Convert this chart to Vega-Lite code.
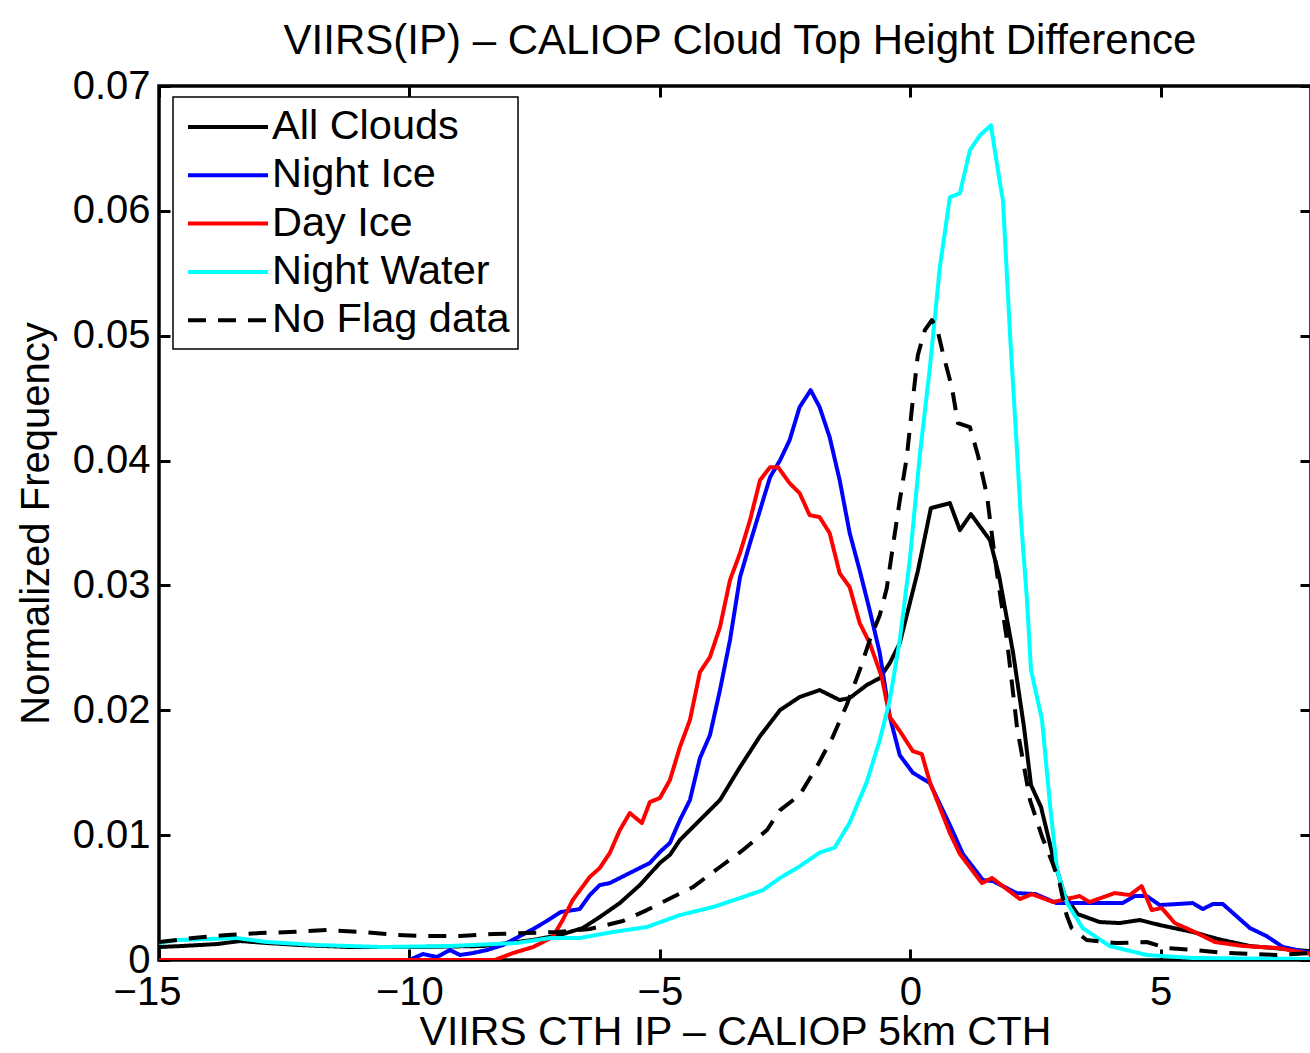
{
  "$schema": "https://vega.github.io/schema/vega-lite/v6.json",
  "width": 1152,
  "height": 874,
  "autosize": {"type": "none"},
  "padding": {"left": 159, "top": 86, "right": 0, "bottom": 93},
  "background": "white",
  "title": {"text": "VIIRS(IP) – CALIOP Cloud Top Height Difference", "fontSize": 42, "fontWeight": "normal", "font": "Liberation Sans", "color": "black", "offset": 3, "anchor": "middle", "dx": 5},
  "datasets": {
    "curves": [
      {"s":"All Clouds","x":-15,"y":0.00104},{"s":"All Clouds","x":-14.54,"y":0.00112},{"s":"All Clouds","x":-13.84,"y":0.00128},{"s":"All Clouds","x":-13.38,"y":0.00152},{"s":"All Clouds","x":-12.85,"y":0.00136},{"s":"All Clouds","x":-12.19,"y":0.0012},{"s":"All Clouds","x":-11.19,"y":0.00104},{"s":"All Clouds","x":-9.85,"y":0.00104},{"s":"All Clouds","x":-8.53,"y":0.00112},{"s":"All Clouds","x":-7.54,"y":0.0016},{"s":"All Clouds","x":-7.0,"y":0.002},{"s":"All Clouds","x":-6.54,"y":0.00256},{"s":"All Clouds","x":-6.2,"y":0.00344},{"s":"All Clouds","x":-5.8,"y":0.00456},{"s":"All Clouds","x":-5.4,"y":0.006},{"s":"All Clouds","x":-5.0,"y":0.00777},{"s":"All Clouds","x":-4.8,"y":0.00841},{"s":"All Clouds","x":-4.6,"y":0.00961},{"s":"All Clouds","x":-4.2,"y":0.01121},{"s":"All Clouds","x":-3.8,"y":0.01281},{"s":"All Clouds","x":-3.4,"y":0.01545},{"s":"All Clouds","x":-3.0,"y":0.01793},{"s":"All Clouds","x":-2.6,"y":0.02002},{"s":"All Clouds","x":-2.21,"y":0.02106},{"s":"All Clouds","x":-1.81,"y":0.02162},{"s":"All Clouds","x":-1.41,"y":0.02082},{"s":"All Clouds","x":-1.21,"y":0.02098},{"s":"All Clouds","x":-0.87,"y":0.02202},{"s":"All Clouds","x":-0.61,"y":0.02258},{"s":"All Clouds","x":-0.41,"y":0.02378},{"s":"All Clouds","x":-0.21,"y":0.02538},{"s":"All Clouds","x":-0.01,"y":0.02858},{"s":"All Clouds","x":0.15,"y":0.03114},{"s":"All Clouds","x":0.41,"y":0.03619},{"s":"All Clouds","x":0.79,"y":0.03659},{"s":"All Clouds","x":0.99,"y":0.03443},{"s":"All Clouds","x":1.21,"y":0.03571},{"s":"All Clouds","x":1.59,"y":0.03363},{"s":"All Clouds","x":1.77,"y":0.03082},{"s":"All Clouds","x":2.05,"y":0.02466},{"s":"All Clouds","x":2.27,"y":0.01865},{"s":"All Clouds","x":2.41,"y":0.01401},{"s":"All Clouds","x":2.61,"y":0.01225},{"s":"All Clouds","x":2.85,"y":0.00825},{"s":"All Clouds","x":3.08,"y":0.0052},{"s":"All Clouds","x":3.34,"y":0.00368},{"s":"All Clouds","x":3.78,"y":0.00304},{"s":"All Clouds","x":4.18,"y":0.00296},{"s":"All Clouds","x":4.58,"y":0.0032},{"s":"All Clouds","x":4.98,"y":0.0028},{"s":"All Clouds","x":5.64,"y":0.00224},{"s":"All Clouds","x":6.14,"y":0.00168},{"s":"All Clouds","x":6.78,"y":0.00112},{"s":"All Clouds","x":8.0,"y":0.0007},

      {"s":"Night Ice","x":-15,"y":0},{"s":"Night Ice","x":-10,"y":0},{"s":"Night Ice","x":-9.73,"y":0.00048},{"s":"Night Ice","x":-9.45,"y":0.00024},{"s":"Night Ice","x":-9.19,"y":0.0008},{"s":"Night Ice","x":-8.99,"y":0.0004},{"s":"Night Ice","x":-8.73,"y":0.00056},{"s":"Night Ice","x":-8.45,"y":0.0008},{"s":"Night Ice","x":-8.13,"y":0.0012},{"s":"Night Ice","x":-7.83,"y":0.00184},{"s":"Night Ice","x":-7.53,"y":0.00248},{"s":"Night Ice","x":-7.26,"y":0.00312},{"s":"Night Ice","x":-6.98,"y":0.00384},{"s":"Night Ice","x":-6.6,"y":0.00408},{"s":"Night Ice","x":-6.4,"y":0.0052},{"s":"Night Ice","x":-6.2,"y":0.006},{"s":"Night Ice","x":-6.0,"y":0.00616},{"s":"Night Ice","x":-5.6,"y":0.00697},{"s":"Night Ice","x":-5.2,"y":0.00777},{"s":"Night Ice","x":-5.0,"y":0.00865},{"s":"Night Ice","x":-4.8,"y":0.00937},{"s":"Night Ice","x":-4.6,"y":0.01121},{"s":"Night Ice","x":-4.4,"y":0.01281},{"s":"Night Ice","x":-4.2,"y":0.01617},{"s":"Night Ice","x":-4.0,"y":0.01801},{"s":"Night Ice","x":-3.8,"y":0.02162},{"s":"Night Ice","x":-3.6,"y":0.02562},{"s":"Night Ice","x":-3.4,"y":0.03066},{"s":"Night Ice","x":-3.2,"y":0.03339},{"s":"Night Ice","x":-3.0,"y":0.03603},{"s":"Night Ice","x":-2.8,"y":0.03867},{"s":"Night Ice","x":-2.6,"y":0.04003},{"s":"Night Ice","x":-2.41,"y":0.04163},{"s":"Night Ice","x":-2.21,"y":0.04428},{"s":"Night Ice","x":-1.99,"y":0.04564},{"s":"Night Ice","x":-1.81,"y":0.04428},{"s":"Night Ice","x":-1.61,"y":0.04187},{"s":"Night Ice","x":-1.41,"y":0.03843},{"s":"Night Ice","x":-1.21,"y":0.03419},{"s":"Night Ice","x":-1.01,"y":0.0312},{"s":"Night Ice","x":-0.81,"y":0.028},{"s":"Night Ice","x":-0.61,"y":0.0246},{"s":"Night Ice","x":-0.41,"y":0.0195},{"s":"Night Ice","x":-0.21,"y":0.0164},{"s":"Night Ice","x":0.05,"y":0.015},{"s":"Night Ice","x":0.39,"y":0.01417},{"s":"Night Ice","x":0.79,"y":0.01081},{"s":"Night Ice","x":1.05,"y":0.00849},{"s":"Night Ice","x":1.45,"y":0.0064},{"s":"Night Ice","x":1.65,"y":0.00632},{"s":"Night Ice","x":2.12,"y":0.00536},{"s":"Night Ice","x":2.5,"y":0.00528},{"s":"Night Ice","x":2.92,"y":0.00456},{"s":"Night Ice","x":4.24,"y":0.00456},{"s":"Night Ice","x":4.48,"y":0.00512},{"s":"Night Ice","x":4.72,"y":0.00512},{"s":"Night Ice","x":4.98,"y":0.0044},{"s":"Night Ice","x":5.64,"y":0.00456},{"s":"Night Ice","x":5.84,"y":0.00408},{"s":"Night Ice","x":6.04,"y":0.00448},{"s":"Night Ice","x":6.24,"y":0.00448},{"s":"Night Ice","x":6.78,"y":0.00256},{"s":"Night Ice","x":7.11,"y":0.00192},{"s":"Night Ice","x":7.44,"y":0.00104},{"s":"Night Ice","x":8.0,"y":0.00056},

      {"s":"Day Ice","x":-15,"y":0},{"s":"Day Ice","x":-8.3,"y":0},{"s":"Day Ice","x":-7.93,"y":0.00056},{"s":"Day Ice","x":-7.53,"y":0.00104},{"s":"Day Ice","x":-7.14,"y":0.00184},{"s":"Day Ice","x":-6.94,"y":0.0032},{"s":"Day Ice","x":-6.74,"y":0.0048},{"s":"Day Ice","x":-6.4,"y":0.00665},{"s":"Day Ice","x":-6.2,"y":0.00737},{"s":"Day Ice","x":-6.0,"y":0.00857},{"s":"Day Ice","x":-5.8,"y":0.0104},{"s":"Day Ice","x":-5.6,"y":0.01177},{"s":"Day Ice","x":-5.36,"y":0.01097},{"s":"Day Ice","x":-5.2,"y":0.01265},{"s":"Day Ice","x":-5.0,"y":0.01297},{"s":"Day Ice","x":-4.8,"y":0.01441},{"s":"Day Ice","x":-4.6,"y":0.01705},{"s":"Day Ice","x":-4.4,"y":0.01922},{"s":"Day Ice","x":-4.2,"y":0.02306},{"s":"Day Ice","x":-4.0,"y":0.02426},{"s":"Day Ice","x":-3.8,"y":0.02666},{"s":"Day Ice","x":-3.6,"y":0.03042},{"s":"Day Ice","x":-3.4,"y":0.03259},{"s":"Day Ice","x":-3.2,"y":0.03523},{"s":"Day Ice","x":-3.0,"y":0.03843},{"s":"Day Ice","x":-2.8,"y":0.03947},{"s":"Day Ice","x":-2.64,"y":0.03947},{"s":"Day Ice","x":-2.41,"y":0.03819},{"s":"Day Ice","x":-2.21,"y":0.03739},{"s":"Day Ice","x":-2.01,"y":0.03563},{"s":"Day Ice","x":-1.81,"y":0.03547},{"s":"Day Ice","x":-1.61,"y":0.03419},{"s":"Day Ice","x":-1.41,"y":0.03098},{"s":"Day Ice","x":-1.21,"y":0.02986},{"s":"Day Ice","x":-1.01,"y":0.02698},{"s":"Day Ice","x":-0.81,"y":0.02538},{"s":"Day Ice","x":-0.57,"y":0.02266},{"s":"Day Ice","x":-0.41,"y":0.01946},{"s":"Day Ice","x":-0.21,"y":0.01834},{"s":"Day Ice","x":0.05,"y":0.01673},{"s":"Day Ice","x":0.23,"y":0.01649},{"s":"Day Ice","x":0.39,"y":0.01425},{"s":"Day Ice","x":0.79,"y":0.01017},{"s":"Day Ice","x":0.99,"y":0.00849},{"s":"Day Ice","x":1.43,"y":0.00616},{"s":"Day Ice","x":1.63,"y":0.00657},{"s":"Day Ice","x":2.19,"y":0.00488},{"s":"Day Ice","x":2.43,"y":0.00528},{"s":"Day Ice","x":2.85,"y":0.00464},{"s":"Day Ice","x":3.38,"y":0.00512},{"s":"Day Ice","x":3.58,"y":0.00464},{"s":"Day Ice","x":4.08,"y":0.00536},{"s":"Day Ice","x":4.38,"y":0.0052},{"s":"Day Ice","x":4.62,"y":0.00592},{"s":"Day Ice","x":4.82,"y":0.004},{"s":"Day Ice","x":5.02,"y":0.00416},{"s":"Day Ice","x":5.28,"y":0.00296},{"s":"Day Ice","x":5.68,"y":0.00224},{"s":"Day Ice","x":6.08,"y":0.00144},{"s":"Day Ice","x":6.64,"y":0.00112},{"s":"Day Ice","x":7.34,"y":0.00096},{"s":"Day Ice","x":8.0,"y":0.00048},

      {"s":"Night Water","x":-15,"y":0.00136},{"s":"Night Water","x":-14.64,"y":0.0016},{"s":"Night Water","x":-13.44,"y":0.00176},{"s":"Night Water","x":-12.85,"y":0.00144},{"s":"Night Water","x":-11.85,"y":0.0012},{"s":"Night Water","x":-10.53,"y":0.00104},{"s":"Night Water","x":-9.19,"y":0.00112},{"s":"Night Water","x":-7.86,"y":0.00136},{"s":"Night Water","x":-7.19,"y":0.00176},{"s":"Night Water","x":-6.6,"y":0.00176},{"s":"Night Water","x":-5.94,"y":0.00224},{"s":"Night Water","x":-5.26,"y":0.00264},{"s":"Night Water","x":-4.6,"y":0.0036},{"s":"Night Water","x":-3.94,"y":0.00424},{"s":"Night Water","x":-3.4,"y":0.00496},{"s":"Night Water","x":-2.94,"y":0.0056},{"s":"Night Water","x":-2.6,"y":0.00657},{"s":"Night Water","x":-2.21,"y":0.0075},{"s":"Night Water","x":-1.81,"y":0.0086},{"s":"Night Water","x":-1.51,"y":0.009},{"s":"Night Water","x":-1.21,"y":0.011},{"s":"Night Water","x":-0.87,"y":0.01425},{"s":"Night Water","x":-0.61,"y":0.01761},{"s":"Night Water","x":-0.41,"y":0.02082},{"s":"Night Water","x":-0.21,"y":0.02562},{"s":"Night Water","x":-0.01,"y":0.03203},{"s":"Night Water","x":0.19,"y":0.04044},{"s":"Night Water","x":0.39,"y":0.0474},{"s":"Night Water","x":0.59,"y":0.05549},{"s":"Night Water","x":0.79,"y":0.06109},{"s":"Night Water","x":0.99,"y":0.06141},{"s":"Night Water","x":1.19,"y":0.06485},{"s":"Night Water","x":1.39,"y":0.06605},{"s":"Night Water","x":1.61,"y":0.06685},{"s":"Night Water","x":1.79,"y":0.06221},{"s":"Night Water","x":1.85,"y":0.06085},{"s":"Night Water","x":1.99,"y":0.0502},{"s":"Night Water","x":2.13,"y":0.04083},{"s":"Night Water","x":2.21,"y":0.03523},{"s":"Night Water","x":2.33,"y":0.02882},{"s":"Night Water","x":2.41,"y":0.02322},{"s":"Night Water","x":2.63,"y":0.01922},{"s":"Night Water","x":2.79,"y":0.01241},{"s":"Night Water","x":2.93,"y":0.00721},{"s":"Night Water","x":3.13,"y":0.00456},{"s":"Night Water","x":3.44,"y":0.00256},{"s":"Night Water","x":3.98,"y":0.00112},{"s":"Night Water","x":4.72,"y":0.0004},{"s":"Night Water","x":5.64,"y":0.00016},{"s":"Night Water","x":8.0,"y":0.00008},

      {"s":"No Flag data","x":-15,"y":0.00144},{"s":"No Flag data","x":-14.32,"y":0.00176},{"s":"No Flag data","x":-13.64,"y":0.002},{"s":"No Flag data","x":-12.99,"y":0.00216},{"s":"No Flag data","x":-12.39,"y":0.00224},{"s":"No Flag data","x":-11.65,"y":0.0024},{"s":"No Flag data","x":-10.93,"y":0.00224},{"s":"No Flag data","x":-10.25,"y":0.002},{"s":"No Flag data","x":-9.65,"y":0.00192},{"s":"No Flag data","x":-8.99,"y":0.00192},{"s":"No Flag data","x":-8.33,"y":0.00208},{"s":"No Flag data","x":-7.66,"y":0.00216},{"s":"No Flag data","x":-7.05,"y":0.00224},{"s":"No Flag data","x":-6.4,"y":0.00248},{"s":"No Flag data","x":-5.74,"y":0.00312},{"s":"No Flag data","x":-5.26,"y":0.004},{"s":"No Flag data","x":-4.86,"y":0.0048},{"s":"No Flag data","x":-4.34,"y":0.00584},{"s":"No Flag data","x":-3.8,"y":0.00745},{"s":"No Flag data","x":-3.34,"y":0.00881},{"s":"No Flag data","x":-2.86,"y":0.01041},{"s":"No Flag data","x":-2.6,"y":0.01201},{"s":"No Flag data","x":-2.21,"y":0.01321},{"s":"No Flag data","x":-1.87,"y":0.01545},{"s":"No Flag data","x":-1.55,"y":0.01785},{"s":"No Flag data","x":-1.27,"y":0.02042},{"s":"No Flag data","x":-1.01,"y":0.02322},{"s":"No Flag data","x":-0.81,"y":0.02562},{"s":"No Flag data","x":-0.61,"y":0.02762},{"s":"No Flag data","x":-0.47,"y":0.02978},{"s":"No Flag data","x":-0.35,"y":0.03307},{"s":"No Flag data","x":-0.21,"y":0.03683},{"s":"No Flag data","x":-0.07,"y":0.04027},{"s":"No Flag data","x":0.05,"y":0.04484},{"s":"No Flag data","x":0.15,"y":0.04844},{"s":"No Flag data","x":0.29,"y":0.05044},{"s":"No Flag data","x":0.43,"y":0.05124},{"s":"No Flag data","x":0.53,"y":0.05068},{"s":"No Flag data","x":0.65,"y":0.0486},{"s":"No Flag data","x":0.83,"y":0.04588},{"s":"No Flag data","x":0.95,"y":0.043},{"s":"No Flag data","x":1.19,"y":0.04268},{"s":"No Flag data","x":1.35,"y":0.04043},{"s":"No Flag data","x":1.53,"y":0.03723},{"s":"No Flag data","x":1.63,"y":0.03403},{"s":"No Flag data","x":1.75,"y":0.03042},{"s":"No Flag data","x":1.93,"y":0.02562},{"s":"No Flag data","x":2.13,"y":0.01865},{"s":"No Flag data","x":2.39,"y":0.01281},{"s":"No Flag data","x":2.64,"y":0.00977},{"s":"No Flag data","x":2.84,"y":0.00777},{"s":"No Flag data","x":2.98,"y":0.00616},{"s":"No Flag data","x":3.12,"y":0.0036},{"s":"No Flag data","x":3.22,"y":0.00256},{"s":"No Flag data","x":3.52,"y":0.0016},{"s":"No Flag data","x":4.12,"y":0.00136},{"s":"No Flag data","x":4.72,"y":0.00144},{"s":"No Flag data","x":5.12,"y":0.00096},{"s":"No Flag data","x":5.64,"y":0.0008},{"s":"No Flag data","x":6.32,"y":0.00056},{"s":"No Flag data","x":7.32,"y":0.0004},{"s":"No Flag data","x":8.0,"y":0.00056}
    ]
  },
  "data": {"name": "curves"},
  "layer": [
    {
      "mark": {"type": "line", "strokeWidth": 4, "clip": true, "strokeJoin": "round"},
      "encoding": {
        "x": {"field": "x", "type": "quantitative", "scale": {"domain": [-15, 8], "nice": false, "zero": false},
              "axis": {"orient": "bottom", "values": [-15, -10, -5, 0, 5], "title": "VIIRS CTH IP – CALIOP 5km CTH", "titleFontSize": 41, "labelPadding": 23, "titlePadding": 0, "labelFlush": false, "labelOffset": {"expr": "datum.value == -15 ? -12 : 0"}}},
        "y": {"field": "y", "type": "quantitative", "scale": {"domain": [0, 0.07], "nice": false},
              "axis": {"orient": "left", "values": [0, 0.01, 0.02, 0.03, 0.04, 0.05, 0.06, 0.07], "format": ".2~f", "title": "Normalized Frequency", "labelPadding": 20, "titlePadding": 16}},
        "color": {"field": "s", "type": "nominal",
                  "scale": {"domain": ["All Clouds", "Night Ice", "Day Ice", "Night Water", "No Flag data"], "range": ["#000000", "#0000ff", "#ff0000", "#00ffff", "#000000"]},
                  "legend": {"orient": "none", "legendX": 14, "legendY": 11, "title": null, "symbolType": "M-2,0H2", "symbolSize": 1600, "symbolStrokeWidth": 4, "labelFontSize": 41.5, "labelFont": "Liberation Sans", "labelColor": "black", "labelOffset": 22, "symbolOffset": 25, "padding": 8, "rowPadding": 5.3, "strokeColor": "black", "fillColor": "white", "labelLimit": 0}},
        "strokeDash": {"field": "s", "type": "nominal",
                  "scale": {"domain": ["All Clouds", "Night Ice", "Day Ice", "Night Water", "No Flag data"], "range": [[1, 0], [1, 0], [1, 0], [1, 0], [18, 12]]},
                  "legend": {"orient": "none", "legendX": 14, "legendY": 11, "title": null, "symbolType": "M-2,0H2", "symbolSize": 1600, "symbolStrokeWidth": 4, "labelFontSize": 41.5, "labelFont": "Liberation Sans", "labelColor": "black", "labelOffset": 22, "symbolOffset": 25, "padding": 8, "rowPadding": 5.3, "strokeColor": "black", "fillColor": "white", "labelLimit": 0}}
      }
    },
    {
      "mark": {"type": "point", "opacity": 0},
      "encoding": {
        "x": {"field": "x", "type": "quantitative", "axis": {"orient": "top", "values": [-15, -10, -5, 0, 5], "labels": false, "title": null}},
        "y": {"field": "y", "type": "quantitative", "axis": {"orient": "right", "values": [0, 0.01, 0.02, 0.03, 0.04, 0.05, 0.06, 0.07], "labels": false, "title": null}}
      }
    }
  ],
  "resolve": {"axis": {"x": "independent", "y": "independent"}},
  "config": {
    "font": "Liberation Sans",
    "view": {"stroke": "#000000", "strokeWidth": 3.5},
    "axis": {"domain": false, "grid": false, "ticks": true, "tickSize": -11, "tickWidth": 3, "tickColor": "#000000",
             "labelFontSize": 40, "labelFont": "Liberation Sans", "labelColor": "#000000",
             "titleFontSize": 40, "titleFont": "Liberation Sans", "titleFontWeight": "normal", "titleColor": "#000000"},
    "legend": {"strokeWidth": 1.5}
  }
}
